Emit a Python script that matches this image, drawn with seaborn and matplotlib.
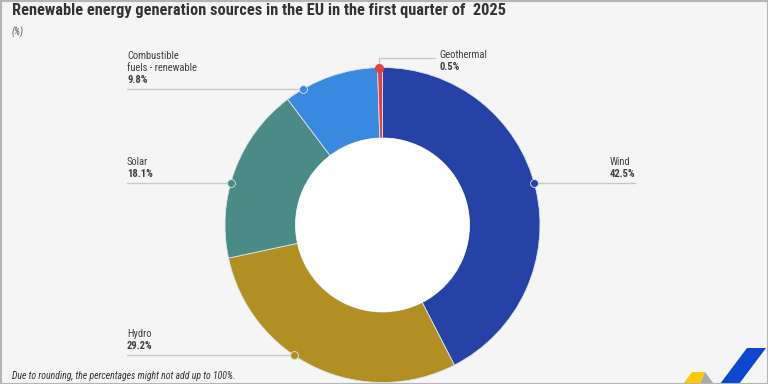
import numpy as np
import matplotlib
matplotlib.use('Agg')
import matplotlib.pyplot as plt
from matplotlib import font_manager
from matplotlib.patches import Circle, Polygon, Rectangle
import seaborn as sns

# data
sources = ['Wind', 'Hydro', 'Solar', 'Combustible\nfuels - renewable', 'Geothermal']
shares = [42.5, 29.2, 18.1, 9.8, 0.5]
share_labels = ['42.5%', '29.2%', '18.1%', '9.8%', '0.5%']
colors = ['#2742a6', '#b18f23', '#4a8b87', '#3a89e0', '#e4403c']

title = 'Renewable energy generation sources in the EU in the first quarter of  2025'
subtitle = '(%)'
footnote = 'Due to rounding, the percentages might not add up to 100%.'

sns.set_theme(style='white')

# look for a narrow face, the original uses a condensed font
fonts = font_manager.fontManager.ttflist
names = {f.name for f in fonts}
cond = [f.name for f in fonts if f.stretch in ('condensed', 'semi-condensed', 'extra-condensed', 75)]
picked = None
for cand in ['Roboto Condensed', 'Liberation Sans Narrow', 'Open Sans Condensed',
             'DejaVu Sans Condensed', 'Noto Sans Condensed']:
    if cand in names:
        picked = cand
        break
stretch = 'normal'
if picked is None and cond:
    picked = cond[0]
    stretch = 'condensed'
fam = [picked, 'DejaVu Sans'] if picked else ['DejaVu Sans']
plt.rcParams['font.family'] = fam
plt.rcParams['font.stretch'] = stretch

W, H = 768, 384
fig = plt.figure(figsize=(7.68, 3.84), dpi=100, facecolor='#f5f5f5')
ax = fig.add_axes([0, 0, 1, 1])
ax.set_facecolor('#f5f5f5')

# pixel-like coords, y up
cx, cy = 382.5, H - 225
r_out, r_in = 157.5, 87

ax.pie(shares, colors=colors, startangle=90, counterclock=False,
       radius=r_out, center=(cx, cy),
       wedgeprops=dict(width=r_out - r_in, edgecolor='#dde3ea', linewidth=0.6))
ax.add_patch(Circle((cx, cy), r_in, facecolor='white', edgecolor='none', zorder=3))

ax.set_xlim(0, W)
ax.set_ylim(0, H)
ax.set_aspect('equal')
ax.axis('off')

# callouts: line height (from top) per slice
line_y = [183, 355, 183, 89, None]
left_x, right_x = 127, 635
txt_col = '#404040'
line_col = '#c8c8c8'
fs = 7.6


def label(tx, yl, name, lab):
    ax.text(tx, yl + 9, lab, ha='left', va='center', fontsize=fs,
            color=txt_col, fontweight='bold')
    for k, part in enumerate(reversed(name.split('\n'))):
        ax.text(tx, yl + 21 + 12 * k, part, ha='left', va='center',
                fontsize=fs, color=txt_col)


cum = np.cumsum([0] + shares)
for i, (name, lab) in enumerate(zip(sources, share_labels)):
    mid = 90 - (cum[i] + cum[i + 1]) / 2 * 3.6
    if line_y[i] is None:
        # geothermal: dot at top, leader goes up then right
        ang = np.deg2rad(mid)
        dx, dy = cx + r_out * np.cos(ang) - 2, cy + r_out * np.sin(ang)
        ax.plot([dx, dx, 435], [dy, H - 58, H - 58], color=line_col, lw=1, zorder=4)
        ax.scatter([dx], [dy], s=30, color=colors[i], edgecolor=colors[i], zorder=6)
        label(439, H - 76, name, lab)
        continue
    yl = H - line_y[i]
    side = 1 if np.cos(np.deg2rad(mid)) > 0 else -1
    dx = cx + side * np.sqrt(r_out ** 2 - (yl - cy) ** 2)
    if side > 0:
        ax.plot([dx, right_x], [yl, yl], color=line_col, lw=1, zorder=4)
        tx = 610
    else:
        ax.plot([left_x, dx], [yl, yl], color=line_col, lw=1, zorder=4)
        tx = left_x
    ax.scatter([dx], [yl], s=32, color=colors[i], edgecolor='#dde3ea',
               linewidth=0.6, zorder=6)
    label(tx, yl, name, lab)

# titles and notes
fig.text(12 / W, 1 - 11 / H, title, ha='left', va='center', fontsize=11.8,
         fontweight='bold', color='#333333')
fig.text(12 / W, 1 - 32 / H, subtitle, ha='left', va='center', fontsize=7,
         style='italic', color='#555555')
fig.text(12 / W, 1 - 376 / H, footnote, ha='left', va='center', fontsize=7,
         style='italic', color='#333333')

# logo in the corner
ax.add_patch(Polygon([(683, 0), (692, 12), (705, 12), (700, 0)],
                     closed=True, facecolor='#ffc800', edgecolor='none'))
ax.add_patch(Polygon([(700, 0), (705, 12), (714, 0)],
                     closed=True, facecolor='#a9aab0', edgecolor='none'))
ax.add_patch(Polygon([(720, 0), (747, 36), (766, 36), (739, 0)],
                     closed=True, facecolor='#0d47cf', edgecolor='none'))

# frame
ax.add_patch(Rectangle((0.5, 0.5), W - 1, H - 1, fill=False,
                       edgecolor='#b5b5b5', linewidth=1.5, zorder=10))

fig.savefig('out.png', dpi=100, facecolor=fig.get_facecolor())
